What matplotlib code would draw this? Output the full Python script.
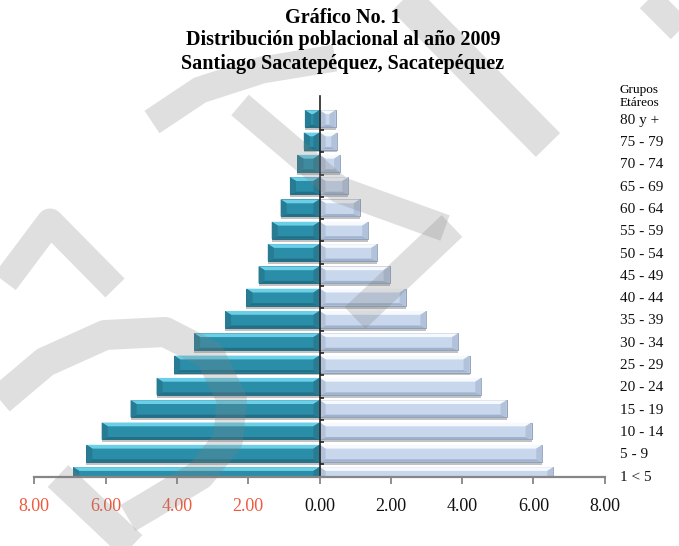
import numpy as np
import matplotlib.pyplot as plt
from matplotlib.patches import Polygon
from matplotlib.lines import Line2D

# Grupos etáreos (de abajo hacia arriba) y porcentajes de población
grupos = ["1 < 5", "5 - 9", "10 - 14", "15 - 19", "20 - 24", "25 - 29",
          "30 - 34", "35 - 39", "40 - 44", "45 - 49", "50 - 54", "55 - 59",
          "60 - 64", "65 - 69", "70 - 74", "75 - 79", "80 y +"]
hombres = [6.91, 6.54, 6.11, 5.30, 4.57, 4.08, 3.52, 2.65, 2.05, 1.71,
           1.45, 1.34, 1.09, 0.83, 0.62, 0.44, 0.41]
mujeres = [6.56, 6.25, 5.95, 5.25, 4.54, 4.21, 3.89, 3.00, 2.42, 1.97,
           1.62, 1.37, 1.13, 0.81, 0.58, 0.50, 0.45]
marcas_x = [-8, -6, -4, -2, 0, 2, 4, 6, 8]

W, H = 679, 546
plt.rcParams['font.family'] = ['Liberation Serif', 'DejaVu Serif']

fig = plt.figure(figsize=(W / 100, H / 100), dpi=100)
ax = fig.add_axes([34.3 / W, 1 - 477 / H, 570.4 / W, 381 / H])

y = np.arange(len(grupos))
alto = 0.76


def barra(yc, v, cara, claro, oscuro, punta, borde):
    # barra con bisel: cara, faceta superior clara, inferior oscura y extremos
    s = np.sign(v)
    h2 = alto / 2
    bx = min(0.17, abs(v) / 2)
    bs, bi = 0.17, 0.11
    ax.barh(yc - 0.13, v, height=alto, color='#c2c2c2', zorder=1)
    ax.barh(yc, v, height=alto, color=cara, edgecolor=borde, linewidth=0.6, zorder=2)
    caras = [
        ([(0, yc + h2), (v, yc + h2), (v - s * bx, yc + h2 - bs), (s * bx, yc + h2 - bs)], claro),
        ([(0, yc - h2), (v, yc - h2), (v - s * bx, yc - h2 + bi), (s * bx, yc - h2 + bi)], oscuro),
        ([(v, yc + h2), (v, yc - h2), (v - s * bx, yc - h2 + bi), (v - s * bx, yc + h2 - bs)], punta),
        ([(0, yc + h2), (0, yc - h2), (s * bx, yc - h2 + bi), (s * bx, yc + h2 - bs)], punta),
    ]
    for pts, col in caras:
        ax.add_patch(Polygon(pts, closed=True, facecolor=col, edgecolor='none', zorder=3))


for yc, vh, vm in zip(y, hombres, mujeres):
    barra(yc, -vh, '#2a8ea9', '#6ccfe8', '#226f86', '#277c94', '#1f667b')
    barra(yc, vm, '#c8d7ec', '#f6f9fe', '#9fb2cd', '#b2c2da', '#8797b0')

ax.set_xlim(-8, 8)
ax.set_ylim(-0.063, 17.02)

for lado in ['top', 'right']:
    ax.spines[lado].set_visible(False)
ax.spines['left'].set_position(('data', 0))
ax.spines['left'].set_color('#222222')
ax.spines['left'].set_linewidth(1.2)
ax.spines['left'].set_zorder(4)
ax.spines['bottom'].set_color('#868686')
ax.spines['bottom'].set_linewidth(1.6)
ax.spines['bottom'].set_zorder(4)

ax.set_xticks(marcas_x)
ax.set_xticklabels([f"{abs(t):.2f}" for t in marcas_x])
for t, lab in zip(marcas_x, ax.get_xticklabels()):
    lab.set_color('#ee5a3e' if t < 0 else '#111111')
ax.tick_params(axis='x', direction='out', length=5, width=1.3, color='#868686',
               labelsize=13, pad=10)

ax.set_yticks(y)
ax.set_yticklabels(grupos)
ax.set_yticks(y[:-1] + 0.5, minor=True)
ax.tick_params(axis='y', which='major', left=False, right=False, labelleft=False,
               labelright=True, length=0, pad=11, labelsize=11, labelcolor='#111111')
ax.tick_params(axis='y', which='minor', left=True, right=False, direction='in',
               length=3, width=1.2, color='#222222')

fig.text(620 / W, 1 - 93 / H, "Grupos", fontsize=9.5, ha='left', va='baseline')
fig.text(620 / W, 1 - 106.5 / H, "Etáreos", fontsize=9.5, ha='left', va='baseline')

titulos = ["Gráfico No. 1", "Distribución poblacional al año 2009",
           "Santiago Sacatepéquez, Sacatepéquez"]
for txt, base in zip(titulos, [23, 45.5, 68.5]):
    fig.text(343 / W, 1 - base / H, txt, fontsize=14.5, fontweight='bold',
             ha='center', va='baseline', zorder=3)

# marca de agua gris semitransparente (trazos en píxeles de la figura)
trazos = [
    ([(152, 122), (200, 90), (262, 70), (335, 58)], 27),
    ([(400, -5), (548, 145)], 34),
    ([(240, 105), (340, 190), (445, 228)], 27),
    ([(452, 226), (355, 318)], 30),
    ([(5, 282), (50, 222), (115, 288)], 27),
    ([(0, 400), (45, 362), (105, 335), (165, 332), (210, 355), (232, 400),
      (228, 440), (200, 475), (150, 505), (128, 518)], 30),
    ([(58, 476), (132, 546)], 30),
    ([(640, -10), (690, 40)], 26),
]
for pts, ancho in trazos:
    xs = [p[0] / W for p in pts]
    ys = [1 - p[1] / H for p in pts]
    fig.add_artist(Line2D(xs, ys, transform=fig.transFigure, color='#808080',
                          alpha=0.25, linewidth=ancho * 0.72,
                          solid_capstyle='butt', solid_joinstyle='round', zorder=1))

fig.savefig('out.png', dpi=100)
